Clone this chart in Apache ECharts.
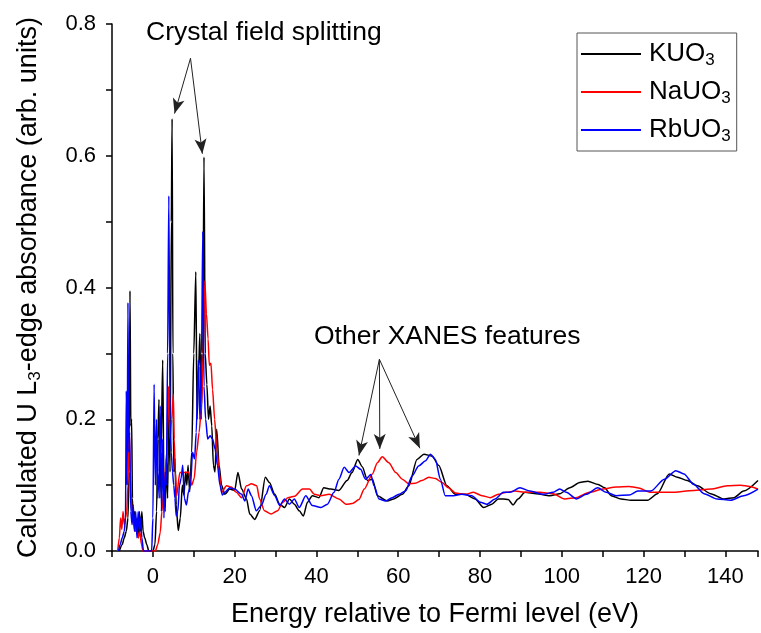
<!DOCTYPE html>
<html>
<head>
<meta charset="utf-8">
<script src="https://cdn.jsdelivr.net/npm/echarts@6/dist/echarts.min.js"></script>
<style>
    html, body { margin: 0; padding: 0; background: #fff; }
    #chart { width: 761px; height: 633px; }
</style>
</head>
<body>
<div id="chart"></div>
<script>
// series names (legend order)
const seriesNames = ['KUO3', 'NaUO3', 'RbUO3'];
const seriesColors = ['#000000', '#ff0000', '#0000ff'];

// [energy (eV), absorbance]
const KUO3 = [
    [-8.2,0],[-7.5,0.01],[-7,0.02],[-6.5,0.03],[-6.1,0.05],[-5.8,0.12],[-5.6,0.395],[-5.4,0.19],[-5.2,0.2],
    [-5,0.08],[-4.8,0.04],[-4.5,0.06],[-4.2,0.03],[-3.9,0.05],[-3.6,0.02],[-3.3,0.06],[-3,0.03],[-2.7,0.06],
    [-2.4,0.03],[-2,0.02],[-1.5,0.01],[-1,0],[0,0],[0.5,0.01],[0.9,0.06],[1.2,0.17],[1.5,0.23],[1.7,0.08],
    [2,0.15],[2.4,0.29],[2.7,0.1],[3,0.06],[3.3,0.14],[3.6,0.08],[3.9,0.22],[4.2,0.12],[4.5,0.5],[4.7,0.656],
    [4.9,0.3],[5.1,0.12],[5.4,0.14],[5.7,0.07],[6.2,0.031],[6.7,0.05],[7.2,0.1],[7.6,0.085],[8,0.12],[8.3,0.1],
    [8.6,0.13],[9,0.09],[9.5,0.15],[10,0.3],[10.5,0.424],[10.8,0.2],[11.2,0.28],[11.5,0.33],[11.8,0.2],
    [12.2,0.3],[12.5,0.598],[12.8,0.3],[13.2,0.253],[13.6,0.2],[14,0.22],[14.4,0.19],[14.8,0.13],[15.2,0.12],
    [15.6,0.185],[16.2,0.13],[16.8,0.1],[17.6,0.086],[18.8,0.094],[20,0.092],[20.8,0.119],[21.7,0.094],
    [22.9,0.079],[23.7,0.056],[24.9,0.048],[26.1,0.061],[27.5,0.112],[28.5,0.104],[29.8,0.086],[31,0.071],
    [32.2,0.066],[33.4,0.079],[34.6,0.071],[35.8,0.061],[36.8,0.053],[37.8,0.074],[39,0.084],[40.6,0.081],
    [41.8,0.096],[43.5,0.094],[45.5,0.092],[47.5,0.107],[48.7,0.119],[50.1,0.139],[51.2,0.128],[52.5,0.107],
    [53.7,0.109],[54.9,0.084],[57.3,0.076],[58.9,0.079],[61,0.086],[62.6,0.099],[64.6,0.139],[66.3,0.147],
    [68.3,0.144],[69.9,0.13],[71.9,0.099],[74,0.086],[76.4,0.086],[78.8,0.079],[80.9,0.066],[82.9,0.071],
    [84.5,0.079],[85.7,0.079],[86.9,0.078],[88.1,0.07],[89.3,0.079],[91,0.089],[93.8,0.087],[97.1,0.084],
    [99.5,0.087],[102,0.096],[104.4,0.104],[106.4,0.106],[108.9,0.101],[110.5,0.096],[112.1,0.084],
    [114.5,0.079],[116.9,0.077],[121,0.077],[123.4,0.087],[126.3,0.117],[128.3,0.112],[130.7,0.107],
    [133.2,0.099],[136.4,0.087],[139.7,0.079],[142.1,0.081],[144.5,0.091],[148,0.107]
];
const NaUO3 = [
    [-8.6,0],[-8.2,0.02],[-7.9,0.05],[-7.6,0.033],[-7.3,0.06],[-7,0.04],[-6.7,0.05],[-6.4,0.06],[-6.1,0.1],
    [-5.8,0.187],[-5.5,0.12],[-5.1,0.05],[-4.7,0.04],[-4.4,0.03],[-4,0.04],[-3.6,0.02],[-3.2,0.03],[-2.8,0.01],
    [-2.4,0],[0.6,0],[1.2,0.01],[1.8,0.028],[2.2,0.06],[2.6,0.089],[3,0.12],[3.4,0.15],[3.8,0.25],[4.2,0.17],
    [4.6,0.2],[5,0.238],[5.2,0.17],[5.5,0.12],[5.8,0.084],[6.6,0.119],[7.9,0.119],[8.7,0.12],[9.5,0.1],
    [10.1,0.11],[10.7,0.15],[11.3,0.18],[11.9,0.22],[12.3,0.3],[12.7,0.41],[13.1,0.36],[13.5,0.322],
    [13.8,0.282],[14.2,0.285],[14.6,0.245],[15.1,0.2],[15.6,0.16],[16.2,0.12],[16.8,0.089],[18,0.099],
    [19.2,0.097],[20.4,0.089],[21.7,0.081],[22.9,0.099],[24.1,0.102],[25.4,0.099],[26.1,0.079],[27.3,0.061],
    [28.9,0.056],[30.5,0.061],[31.8,0.074],[33,0.081],[34.6,0.083],[36.6,0.094],[38.3,0.094],[39.5,0.086],
    [41.1,0.084],[43.1,0.086],[45.5,0.079],[47.2,0.071],[48.8,0.072],[50.4,0.078],[51.7,0.094],[53.7,0.117],
    [54.9,0.134],[56.1,0.143],[57.7,0.134],[59.4,0.119],[61,0.109],[62.6,0.102],[64.2,0.103],[65.8,0.107],
    [67.5,0.112],[69.1,0.11],[70.7,0.104],[72.3,0.096],[74,0.088],[76.4,0.086],[78.4,0.089],[80.5,0.084],
    [82.5,0.081],[84.5,0.086],[86.5,0.089],[88.5,0.091],[91.4,0.089],[94.6,0.089],[97.9,0.087],[100.7,0.079],
    [103.5,0.081],[106.8,0.089],[110,0.094],[113.3,0.097],[116.5,0.098],[118.5,0.096],[121.8,0.089],
    [126.6,0.089],[132.3,0.092],[136.4,0.094],[140.5,0.099],[143.7,0.1],[146,0.098],[148,0.094]
];
const RbUO3 = [
    [-8.4,0],[-8,0.01],[-7.5,0.02],[-7,0.03],[-6.7,0.05],[-6.5,0.243],[-6.3,0.1],[-6.1,0.377],[-5.9,0.15],
    [-5.7,0.18],[-5.4,0.06],[-5.1,0.04],[-4.8,0.07],[-4.5,0.03],[-4.2,0.06],[-3.9,0.02],[-3.6,0.06],[-3.3,0.03],
    [-3,0.05],[-2.7,0.02],[-2.3,0],[-0.3,0],[0,0.05],[0.3,0.253],[0.6,0.1],[0.9,0.2],[1.2,0.08],[1.5,0.12],
    [1.8,0.22],[2.1,0.06],[2.4,0.17],[2.7,0.05],[3,0.12],[3.3,0.1],[3.6,0.3],[3.9,0.539],[4.2,0.2],[4.5,0.15],
    [4.8,0.12],[5.1,0.1],[5.4,0.08],[5.7,0.053],[6.1,0.06],[6.5,0.1],[6.9,0.11],[7.3,0.13],[7.7,0.08],
    [8.2,0.07],[8.7,0.09],[9.2,0.1],[9.7,0.15],[10.2,0.14],[10.6,0.18],[11.1,0.29],[11.5,0.2],[11.9,0.3],
    [12.2,0.485],[12.5,0.25],[12.9,0.2],[13.4,0.17],[14,0.175],[14.6,0.17],[15.2,0.155],[15.8,0.13],
    [16.4,0.1],[17,0.085],[17.6,0.089],[18.8,0.096],[20,0.094],[21.7,0.086],[22.5,0.076],[23.3,0.094],
    [24.1,0.084],[25.3,0.061],[26.5,0.069],[27.7,0.086],[28.5,0.099],[29.8,0.084],[31,0.069],[32.2,0.079],
    [33.4,0.071],[34.6,0.079],[35.8,0.066],[37.4,0.084],[39,0.069],[41.1,0.066],[42.7,0.071],[44.3,0.089],
    [45.5,0.109],[46.8,0.127],[48,0.119],[49.6,0.129],[50.8,0.124],[52,0.109],[53.3,0.116],[54.1,0.099],
    [55.3,0.079],[56.9,0.076],[58.5,0.081],[60.2,0.086],[61.8,0.091],[63.4,0.114],[65,0.129],[66.7,0.137],
    [67.9,0.147],[69.1,0.139],[70.3,0.109],[71.5,0.084],[73.5,0.084],[75.5,0.086],[78,0.084],[80.1,0.074],
    [81.7,0.071],[83.7,0.079],[85.7,0.089],[87.3,0.089],[89.8,0.096],[92.2,0.091],[95.5,0.086],[97.9,0.089],
    [99.5,0.094],[101.1,0.089],[103.6,0.079],[106,0.086],[108.8,0.096],[110.9,0.089],[113.3,0.084],
    [116.5,0.085],[118.6,0.091],[121.8,0.091],[125.1,0.109],[127.9,0.122],[129.9,0.117],[132.3,0.101],
    [134.8,0.087],[138,0.079],[141.3,0.077],[144.5,0.084],[148,0.094]
];

// annotation arrows: [start, tip] in data coords
const crystalArrows = [[[9.2, 0.748], [5.3, 0.664]], [[9.2, 0.748], [12.1, 0.603]]];
const xanesArrows = [[[55.4, 0.291], [50.4, 0.145]], [[55.4, 0.291], [55.5, 0.155]], [[55.4, 0.291], [65.3, 0.156]]];

const FONT = '"Liberation Sans", Arial, sans-serif';
// rich styles for the subscript 3
function subRich(size) {
    return {
        n: { fontSize: size, lineHeight: Math.round(size * 1.15), fontFamily: FONT, color: '#000' },
        s: { fontSize: Math.round(size * 0.64), lineHeight: Math.round(size * 0.6), verticalAlign: 'bottom', fontFamily: FONT, color: '#000' }
    };
}

function arrowLines(list) {
    return list.map(a => [
        { coord: a[0], symbol: 'none' },
        { coord: a[1], symbol: 'arrow' }
    ]);
}

let myChart = echarts.init(document.getElementById('chart'));
let allData = [KUO3, NaUO3, RbUO3];
let series = seriesNames.map((name, i) => ({
    name: name,
    type: 'line',
    data: allData[i],
    showSymbol: false,
    symbol: 'none',
    smooth: 0.25,
    smoothMonotone: 'x',
    z: 2 + i,
    lineStyle: { color: seriesColors[i], width: 1.5 },
    itemStyle: { color: seriesColors[i] }
}));
// arrows go on the first series
series[0].markLine = {
    silent: true,
    animation: false,
    symbolSize: [9, 15],
    label: { show: false },
    lineStyle: { color: '#222', width: 1, type: 'solid' },
    data: arrowLines(crystalArrows).concat(arrowLines(xanesArrows))
};

myChart.setOption({
    animation: false,
    backgroundColor: '#fff',
    grid: { left: 112, top: 24, right: 0, bottom: 81, containLabel: false },
    legend: {
        orient: 'vertical',
        left: 577,
        top: 33,
        padding: [8, 6, 6, 4],
        itemGap: 10,
        itemWidth: 60,
        itemHeight: 2,
        icon: 'rect',
        borderColor: '#555',
        borderWidth: 1,
        borderRadius: 0,
        data: seriesNames,
        formatter: name => '{n|' + name.replace('3', '}{s|3}'),
        textStyle: { rich: subRich(26), padding: [0, 0, 0, 3] }
    },
    xAxis: {
        type: 'value',
        min: -10,
        max: 148,
        interval: 10,
        name: 'Energy relative to Fermi level (eV)',
        nameLocation: 'middle',
        nameGap: 50,
        nameTextStyle: { fontSize: 27, fontFamily: FONT, color: '#000' },
        axisLine: { onZero: false, lineStyle: { color: '#000', width: 1.5 } },
        axisTick: { inside: false, length: 6, lineStyle: { color: '#000', width: 1.5 } },
        axisLabel: {
            margin: 15,
            fontSize: 22,
            fontFamily: FONT,
            color: '#000',
            formatter: v => (v >= 0 && v % 20 === 0) ? String(v) : ''
        },
        splitLine: { show: false }
    },
    yAxis: {
        type: 'value',
        min: 0,
        max: 0.8,
        interval: 0.1,
        name: '{n|Calculated U L}{s|3}{n|-edge absorbance (arb. units)}',
        nameLocation: 'middle',
        nameGap: 68,
        nameTextStyle: { rich: subRich(27) },
        axisLine: { onZero: false, lineStyle: { color: '#000', width: 1.5 } },
        axisTick: { inside: false, length: 6, lineStyle: { color: '#000', width: 1.5 } },
        axisLabel: {
            margin: 16,
            fontSize: 22,
            fontFamily: FONT,
            color: '#000',
            formatter: v => (Math.round(v * 10) % 2 === 0) ? v.toFixed(1) : ''
        },
        splitLine: { show: false }
    },
    graphic: [
        {
            type: 'text', left: 146, top: 19,
            style: { text: 'Crystal field splitting', font: '26.5px ' + FONT, fill: '#000' }
        },
        {
            type: 'text', left: 314, top: 323,
            style: { text: 'Other XANES features', font: '26.5px ' + FONT, fill: '#000' }
        }
    ],
    series: series
});
</script>
</body>
</html>
